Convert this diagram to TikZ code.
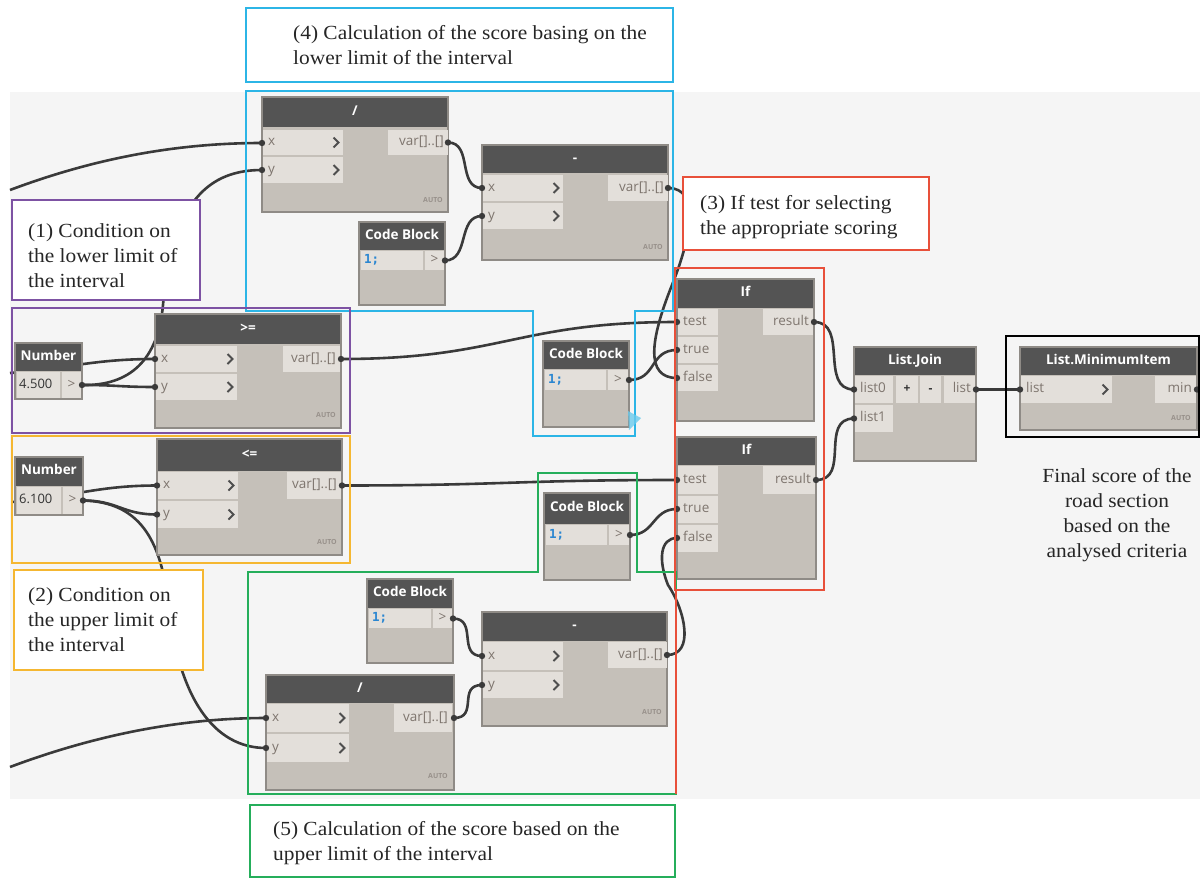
\documentclass[tikz,border=0pt]{standalone}
\usepackage{fontspec}
\setmainfont{Liberation Serif}[FakeStretch=1.07]
\newfontfamily\uif{Open Sans}
\newfontfamily\monof{DejaVu Sans Mono}
\usetikzlibrary{calc}
\definecolor{bgc}{HTML}{F5F5F5}
\definecolor{bodyc}{HTML}{C5C0B9}
\definecolor{headc}{HTML}{545454}
\definecolor{portc}{HTML}{E3DFDA}
\definecolor{edgec}{HTML}{8F8B86}
\definecolor{wirec}{HTML}{3A3A3A}
\definecolor{ptxt}{HTML}{7E756E}
\definecolor{cyanc}{HTML}{2CB5E6}
\definecolor{purpc}{HTML}{7D52A3}
\definecolor{orgc}{HTML}{F5B731}
\definecolor{redc}{HTML}{E8503A}
\definecolor{grnc}{HTML}{25AE5B}
\definecolor{bluec}{HTML}{2A86D1}
\tikzset{
  htext/.style={text=white, font=\uif\bfseries\fontsize{13.5}{15}\selectfont, inner sep=0, text height=9.5pt, text depth=2.7pt},
  ptext/.style={text=ptxt, font=\uif\fontsize{13.5}{15}\selectfont, inner sep=0, text height=9.5pt, text depth=2.7pt},
  vtext/.style={text=black!80, font=\uif\fontsize{13}{15}\selectfont, inner sep=0, text height=9.3pt, text depth=2.6pt},
  cbtext/.style={text=bluec, font=\monof\bfseries\fontsize{12.5}{15}\selectfont, inner sep=0, text height=9pt, text depth=2.6pt},
  wire/.style={draw=wirec, line width=2.6pt},
  chev/.style={draw=wirec!90, line width=2pt},
  callout/.style={fill=white, line width=1.1pt},
  ctext/.style={font=\fontsize{20}{25}\selectfont, align=left, anchor=north west, inner sep=0, text=black!85},
  grp/.style={line width=1.1pt},
  autolbl/.style={text=ptxt!80, font=\uif\bfseries\fontsize{7}{8}\selectfont, inner sep=0, anchor=east},
}
\newcommand{\dnode}[7]{%
  \fill[bodyc] (#2,#3) rectangle (#4,#5);
  \fill[headc] (#2,#3) rectangle (#4,#6);
  \draw[edgec, line width=1.2pt] (#2,#3) rectangle (#4,#5);
  \node[htext] (#1) at ({(#2+#4)/2},{(#3+#6)/2}) {#7};
}
\newcommand{\plainrow}[5]{%
  \fill[portc] (#1+1,#2) rectangle (#3,#4);
  \node[ptext, anchor=west] at (#1+6,{(#2+#4)/2}) {#5};
}
\newcommand{\inrow}[5]{%
  \plainrow{#1}{#2}{#3}{#4}{#5}%
  \draw[chev] (#3-9.5,{(#2+#4)/2-5}) -- (#3-4.5,{(#2+#4)/2}) -- (#3-9.5,{(#2+#4)/2+5});
}
\newcommand{\outrow}[5]{%
  \fill[portc] (#1,#2) rectangle (#3,#4);
  \node[ptext, anchor=east] at (#3-4,{(#2+#4)/2}) {#5};
}
\newcommand{\cbrow}[5]{%
  \fill[portc] (#1+2,#2) rectangle (#3,#5);
  \fill[portc] (#3+2,#2) rectangle (#4-1,#5);
  \node[cbtext, anchor=west] at (#1+5,{(#2+#5)/2}) {1;};
  \node[ptext] at ({(#3+1+#4)/2},{(#2+#5)/2}) {>};
}
\newcommand{\numrow}[6]{%
  \fill[portc] (#1+2,#2) rectangle (#3,#5);
  \fill[portc] (#3+2,#2) rectangle (#4-1,#5);
  \node[vtext, anchor=west] at (#1+4,{(#2+#5)/2}) {#6};
  \node[ptext] at ({(#3+1+#4)/2},{(#2+#5)/2}) {>};
}
\begin{document}
\begin{tikzpicture}[x=1pt,y=-1pt]
\useasboundingbox (0,0) rectangle (1200,878);
\fill[white] (0,0) rectangle (1200,878);
\fill[bgc] (10,92) rectangle (1200,799);

% port coordinates
\coordinate (d1x) at (262,143);   \coordinate (d1y) at (262,170);   \coordinate (d1o) at (448,142.5);
\coordinate (d2x) at (482,188);   \coordinate (d2y) at (482,216);   \coordinate (d2o) at (668,188);
\coordinate (cb1o) at (445,260.5);
\coordinate (n1o) at (82,385);
\coordinate (gex) at (155,359);   \coordinate (gey) at (155,387);   \coordinate (geo) at (341,359);
\coordinate (n2o) at (83,500.5);
\coordinate (lex) at (157,485.5); \coordinate (ley) at (157,514.5); \coordinate (leo) at (342,485.5);
\coordinate (cb2o) at (629,380);
\coordinate (i1t) at (677,322);   \coordinate (i1r) at (677,350);   \coordinate (i1f) at (677,378);   \coordinate (i1o) at (814,322);
\coordinate (cb3o) at (630,535);
\coordinate (i2t) at (677,480);   \coordinate (i2r) at (677,509);   \coordinate (i2f) at (677,538);   \coordinate (i2o) at (816,480);
\coordinate (lj0) at (854,389.5); \coordinate (lj1) at (854,418.5); \coordinate (ljo) at (976,389.5);
\coordinate (lmi) at (1020,389.5); \coordinate (lmo) at (1197,389.5); \coordinate (lmend) at (1200,389.5);
\coordinate (cb4o) at (453,618.5);
\coordinate (d3x) at (482,656);   \coordinate (d3y) at (482,685);   \coordinate (d3o) at (667,655);
\coordinate (d4x) at (266,718);   \coordinate (d4y) at (266,748);   \coordinate (d4o) at (454,718);
\coordinate (lin1) at (10,190);   \coordinate (lin2) at (10,373);   \coordinate (lin3) at (12,502);   \coordinate (lin4) at (10,767);

% wires
\draw[wire] (lin1) .. controls +(80,-30) and +(-90,0) .. (d1x);
\draw[wire] (n1o) .. controls (130,386) and (158,360) .. (163,305) .. controls (172,200) and (210,170) .. (d1y);
\draw[wire] (n1o) .. controls +(35,0) and +(-35,0) .. (gey);
\draw[wire] (lin2) .. controls +(60,-5) and +(-60,0) .. (gex);
\draw[wire] (lin3) .. controls +(60,-5) and +(-60,0) .. (lex);
\draw[wire] (n2o) .. controls +(35,0) and +(-35,0) .. (ley);
\draw[wire] (n2o) .. controls (140,502) and (160,540) .. (168,600) .. controls (178,700) and (215,748) .. (d4y);
\draw[wire] (lin4) .. controls +(80,-30) and +(-90,0) .. (d4x);
\draw[wire] (d1o) .. controls +(25,0) and +(-25,0) .. (d2x);
\draw[wire] (cb1o) .. controls +(25,0) and +(-25,0) .. (d2y);
\draw[wire] (d2o) .. controls (700,188) and (692,235) .. (672,285) .. controls (650,340) and (645,378) .. (i1f);
\draw[wire] (cb2o) .. controls +(28,0) and +(-28,0) .. (i1r);
\draw[wire] (geo) .. controls +(160,0) and +(-160,0) .. (i1t);
\draw[wire] (leo) .. controls +(160,0) and +(-160,0) .. (i2t);
\draw[wire] (cb3o) .. controls +(25,0) and +(-25,0) .. (i2r);
\draw[wire] (d3o) .. controls (695,655) and (685,610) .. (668,585) .. controls (658,560) and (660,538) .. (i2f);
\draw[wire] (i1o) .. controls +(35,0) and +(-35,0) .. (lj0);
\draw[wire] (i2o) .. controls +(35,0) and +(-35,0) .. (lj1);
\draw[wire] (ljo) -- (lmi);
\draw[wire] (lmo) -- (lmend);
\draw[wire] (cb4o) .. controls +(25,0) and +(-25,0) .. (d3x);
\draw[wire] (d4o) .. controls +(25,0) and +(-25,0) .. (d3y);

% top "/"
\dnode{d1}{262}{97}{448}{212}{127}{/}
\inrow{262}{130}{343}{155}{x}
\inrow{262}{157}{343}{183}{y}
\outrow{388}{130}{448}{155}{var[]..[]}
\node[autolbl] at (443,200) {AUTO};
% top "-"
\dnode{d2}{482}{145}{668}{260}{173}{-}
\inrow{482}{175}{563}{201}{x}
\inrow{482}{203}{563}{229}{y}
\outrow{608}{175}{668}{201}{var[]..[]}
\node[autolbl] at (663,247) {AUTO};
% code block 1
\dnode{cb1}{359}{222}{445}{305}{250}{Code Block}
\cbrow{359}{251}{423}{445}{270}
% number 4.500
\dnode{n1}{15}{343}{82}{399}{371}{Number}
\numrow{15}{372}{60}{82}{398}{4.500}
% >=
\dnode{ge}{155}{314}{341}{428}{344}{>=}
\inrow{155}{346}{237}{372}{x}
\inrow{155}{374}{237}{400}{y}
\outrow{283}{346}{340}{372}{var[]..[]}
\node[autolbl] at (336,415) {AUTO};
% number 6.100
\dnode{n2}{15}{457}{83}{515}{486}{Number}
\numrow{15}{487}{61}{83}{514}{6.100}
% <=
\dnode{le}{157}{439}{342}{555}{471}{<=}
\inrow{157}{472}{238}{499}{x}
\inrow{157}{501}{238}{528}{y}
\outrow{287}{472}{341}{499}{var[]..[]}
\node[autolbl] at (337,542) {AUTO};
% code block 2
\dnode{cb2}{543}{341}{629}{427}{369}{Code Block}
\cbrow{543}{370}{606}{629}{390}
% If 1
\dnode{if1}{677}{279}{814}{421}{308}{If}
\plainrow{677}{309}{718}{335}{test}
\plainrow{677}{337}{718}{363}{true}
\plainrow{677}{365}{718}{391}{false}
\outrow{763}{309}{813}{335}{result}
% code block 3
\dnode{cb3}{544}{493}{630}{580}{524}{Code Block}
\cbrow{544}{525}{607}{630}{545}
% If 2
\dnode{if2}{677}{437}{816}{579}{465}{If}
\plainrow{677}{466}{718}{494}{test}
\plainrow{677}{496}{718}{523}{true}
\plainrow{677}{525}{718}{552}{false}
\outrow{763}{466}{815}{494}{result}
% List.Join
\dnode{lj}{854}{347}{976}{461}{375}{List.Join}
\plainrow{854}{376}{893}{403}{list0}
\plainrow{854}{405}{893}{432}{list1}
\fill[portc] (896,376) rectangle (918,403);
\node[vtext, font=\uif\bfseries\fontsize{12}{14}\selectfont] at (907,389.5) {+};
\fill[portc] (920,376) rectangle (941,403);
\node[vtext, font=\uif\bfseries\fontsize{12}{14}\selectfont] at (930.5,389.5) {-};
\outrow{944}{376}{975}{403}{list}
% List.MinimumItem
\dnode{lm}{1020}{347}{1197}{430}{375}{List.MinimumItem}
\inrow{1020}{376}{1112}{403}{list}
\outrow{1155}{376}{1196}{403}{min}
\node[autolbl] at (1191,418) {AUTO};
% code block 4
\dnode{cb4}{367}{579}{453}{663}{608}{Code Block}
\cbrow{367}{609}{431}{453}{628}
% bottom "-"
\dnode{d3}{482}{612}{667}{726}{641}{-}
\inrow{482}{642}{563}{670}{x}
\inrow{482}{672}{563}{698}{y}
\outrow{608}{642}{667}{668}{var[]..[]}
\node[autolbl] at (662,712) {AUTO};
% bottom "/"
\dnode{d4}{266}{675}{454}{790}{703}{/}
\inrow{266}{704}{349}{732}{x}
\inrow{266}{734}{349}{762}{y}
\outrow{394}{704}{452}{732}{var[]..[]}
\node[autolbl] at (448,776) {AUTO};

% port connectors
\foreach \p in {d1x,d1y,d1o,d2x,d2y,d2o,cb1o,n1o,gex,gey,geo,n2o,lex,ley,leo,cb2o,i1t,i1r,i1f,i1o,cb3o,i2t,i2r,i2f,i2o,lj0,lj1,ljo,lmi,lmo,cb4o,d3x,d3y,d3o,d4x,d4y,d4o}
  \fill[wirec] (\p) circle (3.2);

% groups
\draw[cyanc, grp] (246,91) -- (673,91) -- (673,311) -- (635,311) -- (635,436) -- (533,436) -- (533,311) -- (246,311) -- cycle;
\fill[cyanc!70, opacity=0.8] (628,411) -- (641,418) -- (629,430) -- cycle;
\draw[purpc, grp] (12,308) rectangle (350,433);
\draw[orgc, grp] (12,436) rectangle (350,563);
\draw[grnc, grp] (248,572) -- (538,572) -- (538,473) -- (637,473) -- (637,572) -- (676,572) -- (676,794) -- (248,794) -- cycle;
\draw[redc, grp] (675,268) rectangle (824,590);
\draw[redc, grp] (676,590) -- (676,794);
\draw[black, grp] (1006,336) rectangle (1199,437);

% callouts
\draw[callout, draw=cyanc] (246,8) rectangle (673,82);
\node[ctext] (t4) at (293,25) {(4) Calculation of the score basing on the\\lower limit of the interval};
\draw[callout, draw=purpc] (12,200) rectangle (200,300);
\node[ctext] (t1) at (28,223) {(1) Condition on\\the lower limit of\\the interval};
\draw[callout, draw=orgc] (14,570) rectangle (203,670);
\node[ctext] (t2) at (28,587) {(2) Condition on\\the upper limit of\\the interval};
\draw[callout, draw=redc] (683,177) rectangle (929,250);
\node[ctext] (t3) at (700,195) {(3) If test for selecting\\the appropriate scoring};
\draw[callout, draw=grnc] (250,805) rectangle (675,877);
\node[ctext] (t5) at (273,821) {(5) Calculation of the score based on the\\upper limit of the interval};
\node[ctext, align=center, anchor=north] (fin) at (1117,468) {Final score of the\\road section\\based on the\\analysed criteria};
\end{tikzpicture}
\end{document}
